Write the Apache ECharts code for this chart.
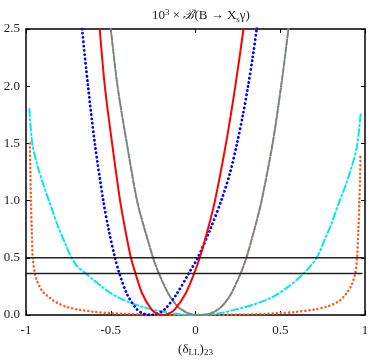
<!DOCTYPE html>
<html>
<head>
<meta charset="utf-8">
<script src="https://cdn.jsdelivr.net/npm/echarts@6/dist/echarts.min.js"></script>
<style>
html, body { margin: 0; padding: 0; background: #fff; }
#main { width: 374px; height: 362px; }
</style>
</head>
<body>
<div id="main"></div>
<script>
// curves, [delta, 10^3 x BR]
var redSolid = [[-0.58, 2.8], [-0.565, 2.5], [-0.535, 2.0], [-0.492, 1.5], [-0.445, 1.0], [-0.415, 0.75],
    [-0.381, 0.5], [-0.354, 0.363], [-0.314, 0.186], [-0.26, 0.05], [-0.224, 0.01], [-0.19, 0.0],
    [-0.16, 0.01], [-0.122, 0.05], [-0.059, 0.186], [-0.008, 0.363], [0.025, 0.5], [0.073, 0.75],
    [0.115, 1.0], [0.18, 1.5], [0.235, 2.0], [0.283, 2.5], [0.3, 2.7]];
var blueDot = [[-0.685, 2.8], [-0.669, 2.5], [-0.634, 2.0], [-0.594, 1.5], [-0.544, 1.0], [-0.513, 0.75],
    [-0.475, 0.5], [-0.449, 0.363], [-0.405, 0.186], [-0.346, 0.05], [-0.305, 0.01], [-0.26, 0.0],
    [-0.228, 0.01], [-0.181, 0.05], [-0.11, 0.186], [-0.04, 0.363], [0.013, 0.5], [0.087, 0.75],
    [0.152, 1.0], [0.205, 1.25], [0.245, 1.5], [0.28, 1.75], [0.31, 2.0], [0.337, 2.25], [0.361, 2.5],
    [0.38, 2.75]];
var greenDash = [[-0.52, 2.75], [-0.5, 2.5], [-0.46, 2.0], [-0.405, 1.5], [-0.345, 1.0], [-0.3, 0.75],
    [-0.25, 0.5], [-0.216, 0.363], [-0.16, 0.186], [-0.12, 0.1], [-0.085, 0.05], [-0.033, 0.01],
    [0.025, 0.0], [0.082, 0.01], [0.135, 0.05], [0.17, 0.1], [0.21, 0.186], [0.266, 0.363], [0.3, 0.5],
    [0.348, 0.75], [0.39, 1.0], [0.455, 1.5], [0.505, 2.0], [0.548, 2.5], [0.565, 2.75]];
var magentaDot = greenDash;
var cyanDashDot = [[-0.98, 1.8], [-0.963, 1.5], [-0.935, 1.32], [-0.9, 1.15], [-0.86, 0.98],
    [-0.81, 0.77], [-0.77, 0.63], [-0.735, 0.51], [-0.7, 0.43], [-0.647, 0.363], [-0.6, 0.305],
    [-0.55, 0.245], [-0.51, 0.2], [-0.45, 0.15], [-0.38, 0.105], [-0.31, 0.07], [-0.23, 0.04],
    [-0.15, 0.018], [-0.07, 0.004], [0, 0.0], [0.07, 0.004], [0.15, 0.018], [0.23, 0.045], [0.294, 0.07],
    [0.36, 0.1], [0.43, 0.14], [0.49, 0.186], [0.55, 0.25], [0.6, 0.31], [0.637, 0.363], [0.68, 0.43],
    [0.715, 0.5], [0.735, 0.56], [0.76, 0.65], [0.8, 0.79], [0.843, 0.97], [0.885, 1.13], [0.92, 1.29],
    [0.951, 1.46], [0.976, 1.776]];
var orangeDot = [[-0.977, 1.5], [-0.974, 1.25], [-0.971, 1.0], [-0.966, 0.75], [-0.96, 0.5],
    [-0.948, 0.363], [-0.935, 0.3], [-0.92, 0.25], [-0.9, 0.2], [-0.889, 0.186], [-0.86, 0.15],
    [-0.82, 0.11], [-0.76, 0.07], [-0.68, 0.045], [-0.6, 0.028], [-0.5, 0.016], [-0.4, 0.009],
    [-0.2, 0.002], [0, 0.0], [0.2, 0.002], [0.4, 0.009], [0.5, 0.016], [0.6, 0.028], [0.7, 0.048],
    [0.78, 0.075], [0.85, 0.125], [0.889, 0.186], [0.92, 0.26], [0.943, 0.363], [0.953, 0.5],
    [0.961, 0.75], [0.967, 1.0], [0.971, 1.2], [0.973, 1.386]];
var smsH = [[-1, 0.5], [-0.79, 0.5], [1, 0.5]];
var sm = [[-1, 0.363], [-0.83, 0.363], [0.985, 0.363]];
var xTicks = [-1, -0.5, 0, 0.5, 1];
var yTicks = [0, 0.5, 1, 1.5, 2, 2.5];

var serif = '"Liberation Serif", "DejaVu Serif", serif';
var myChart = echarts.init(document.getElementById('main'));

function curve(name, data, color, width, type) {
    return {
        name: name, type: 'line', data: data, symbol: 'none',
        smooth: 0.3,
        lineStyle: {color: color, width: width, type: type, cap: 'round'},
        silent: true
    };
}

function refLine(data, text, pos, idx) {
    return {
        type: 'line', data: data.map(function (p, i) {
            if (i !== idx) return p;
            return {value: p, label: {show: true, formatter: text, position: pos, distance: 3,
                fontFamily: serif, fontSize: 13, color: '#111'}};
        }),
        symbol: 'none', lineStyle: {color: '#222', width: 1.4}, silent: true
    };
}

var axisBase = {
    type: 'value', min: -1, max: 1, interval: 0.5,
    axisLine: {onZero: false, lineStyle: {color: '#000', width: 1.5}},
    axisTick: {inside: true, length: 4, lineStyle: {color: '#000'}},
    splitLine: {show: false}
};

option = {
    animation: false,
    title: {
        text: '10{sup|3} × {b|ℬ}(B → X{sub|s}γ)',
        left: 196, top: 3, textAlign: 'center',
        textStyle: {
            fontFamily: serif, fontSize: 13, fontWeight: 'normal', color: '#222',
            rich: {
                sup: {fontFamily: serif, fontSize: 9, verticalAlign: 'top', padding: [0, 0, 7, 0]},
                sub: {fontFamily: serif, fontSize: 9, verticalAlign: 'bottom', padding: [6, 0, 0, 0]},
                b: {fontFamily: '"DejaVu Serif", serif', fontSize: 13, fontStyle: 'italic'}
            }
        }
    },
    grid: {left: 26, right: 9, top: 29, bottom: 42},
    xAxis: [
        Object.assign({}, axisBase, {
            position: 'bottom',
            name: '(δ{sub|LL}){sub|23}', nameLocation: 'middle', nameGap: 27,
            nameTextStyle: {fontFamily: serif, fontSize: 13, color: '#222',
                rich: {sub: {fontFamily: serif, fontSize: 9, verticalAlign: 'bottom', padding: [6, 0, 0, 0]}}},
            axisLabel: {fontFamily: serif, fontSize: 13, color: '#222', margin: 9,
                customValues: xTicks, formatter: function (v) { return String(v); }}
        }),
        Object.assign({}, axisBase, {position: 'top', axisLabel: {show: false}})
    ],
    yAxis: [
        {
            type: 'value', min: 0, max: 2.5, interval: 0.5, position: 'left',
            axisLine: {show: true, onZero: false, lineStyle: {color: '#000', width: 1.5}},
            axisTick: {show: true, inside: true, length: 4, lineStyle: {color: '#000'}},
            splitLine: {show: false},
            axisLabel: {fontFamily: serif, fontSize: 13, color: '#222', margin: 6,
                customValues: yTicks, formatter: function (v) { return v.toFixed(1); }}
        },
        {
            type: 'value', min: 0, max: 2.5, interval: 0.5, position: 'right',
            axisLine: {show: true, onZero: false, lineStyle: {color: '#000', width: 1.5}},
            axisTick: {show: true, inside: true, length: 4, lineStyle: {color: '#000'}},
            splitLine: {show: false}, axisLabel: {show: false}
        }
    ],
    series: [
        curve('orange', orangeDot, '#ff5a1a', 2.5, [0.1, 4]),
        curve('cyan', cyanDashDot, '#00e8f0', 2, [7, 3, 1.5, 3]),
        curve('green', greenDash, '#22cc22', 2, [5, 2]),
        curve('magenta', magentaDot, '#ff22ff', 1.6, [0.1, 2.5]),
        curve('blue', blueDot, '#0000ff', 2.8, [0.1, 4.2]),
        curve('red', redSolid, '#ff0000', 2, 'solid'),
        refLine(smsH, 'SM+sH', 'top', 1),
        refLine(sm, 'SM', 'bottom', 1)
    ]
};

myChart.setOption(option);
</script>
</body>
</html>
